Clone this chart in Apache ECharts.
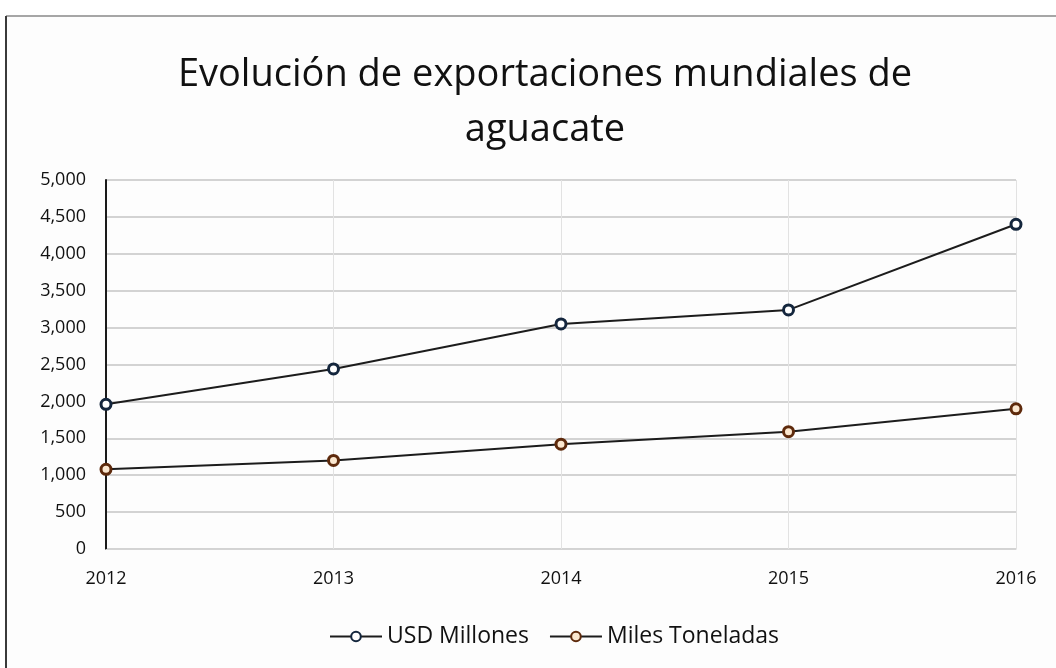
<!DOCTYPE html>
<html>
<head>
<meta charset="utf-8">
<script src="https://cdn.jsdelivr.net/npm/echarts@6/dist/echarts.min.js"></script>
<style>
  html, body { margin: 0; padding: 0; background: #ffffff; }
  #chart { width: 1056px; height: 668px; }
</style>
</head>
<body>
<div id="chart"></div>
<script>
// Exportaciones mundiales de aguacate, 2012-2016
const years = ['2012', '2013', '2014', '2015', '2016'];
const usdMillones = [1960, 2440, 3050, 3240, 4400];
const milesToneladas = [1080, 1200, 1420, 1590, 1900];
const yTicks = { min: 0, max: 5000, interval: 500 };

const fontFamily = '"Open Sans", "Noto Sans", sans-serif';
const fmt = v => v.toLocaleString('en-US');

const chart = echarts.init(document.getElementById('chart'), null, { renderer: 'canvas' });

chart.setOption({
  backgroundColor: '#ffffff',
  animation: false,
  graphic: [
    // panel background and frame edges
    { type: 'rect', shape: { x: 6, y: 16, width: 1056, height: 660 }, style: { fill: '#fdfdfd' }, z: -10 },
    { type: 'line', shape: { x1: 6, y1: 16, x2: 1056, y2: 16 }, style: { stroke: '#a6a6a6', lineWidth: 2 }, z: -5 },
    { type: 'line', shape: { x1: 6, y1: 16, x2: 6, y2: 668 }, style: { stroke: '#3a3a3a', lineWidth: 2 }, z: -5 }
  ],
  title: {
    text: 'Evolución de exportaciones mundiales de\naguacate',
    left: 540,
    textAlign: 'center',
    top: 43,
    textStyle: {
      fontFamily: fontFamily,
      fontSize: 38,
      fontWeight: 'normal',
      color: '#111111',
      lineHeight: 55
    }
  },
  legend: {
    bottom: 15,
    left: 324,
    itemWidth: 52,
    itemHeight: 12,
    itemGap: 20,
    textStyle: { fontFamily: fontFamily, fontSize: 23, color: '#111111' },
    data: ['USD Millones', 'Miles Toneladas']
  },
  grid: { left: 106, right: 40, top: 180, bottom: 119, containLabel: false },
  xAxis: {
    type: 'category',
    data: years,
    boundaryGap: false,
    axisLine: { show: true, lineStyle: { color: '#d4d4d4', width: 1 } },
    axisTick: { show: false },
    axisLabel: { fontFamily: fontFamily, fontSize: 18, color: '#111111', margin: 21 },
    splitLine: { show: true, lineStyle: { color: '#e2e2e2', width: 1 } }
  },
  yAxis: {
    type: 'value',
    min: yTicks.min,
    max: yTicks.max,
    interval: yTicks.interval,
    axisLine: { show: true, lineStyle: { color: '#1a1a1a', width: 2 } },
    axisTick: { show: false },
    axisLabel: { fontFamily: fontFamily, fontSize: 18, color: '#111111', margin: 20, formatter: fmt },
    splitLine: { show: true, lineStyle: { color: '#c4c4c4', width: 1.5 } }
  },
  series: [
    {
      name: 'USD Millones',
      type: 'line',
      data: usdMillones,
      symbol: 'circle',
      symbolSize: 10,
      lineStyle: { color: '#1c1c1c', width: 2 },
      itemStyle: { color: '#ffffff', borderColor: '#14263d', borderWidth: 3 }
    },
    {
      name: 'Miles Toneladas',
      type: 'line',
      data: milesToneladas,
      symbol: 'circle',
      symbolSize: 10,
      lineStyle: { color: '#1c1c1c', width: 2 },
      itemStyle: { color: '#fbe7cf', borderColor: '#5e2a0c', borderWidth: 3 }
    }
  ]
});
</script>
</body>
</html>
